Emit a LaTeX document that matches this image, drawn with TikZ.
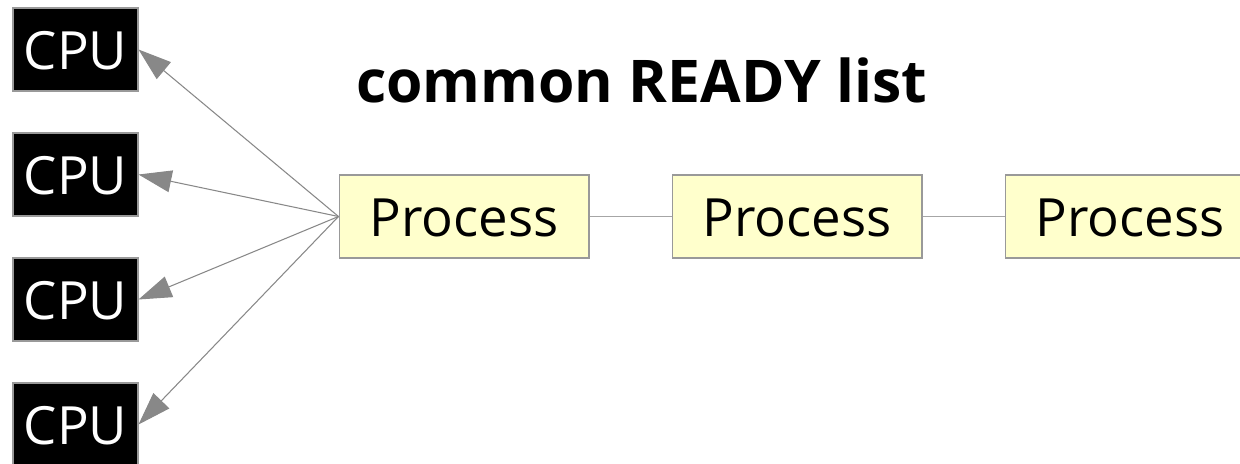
\documentclass[tikz,border=0pt]{standalone}
\usepackage{fontspec}
\setmainfont{Open Sans}
\usetikzlibrary{arrows.meta}
\definecolor{procfill}{HTML}{FFFFCC}
\definecolor{edgegray}{HTML}{888888}

\begin{document}
\begin{tikzpicture}[x=0.02cm,y=-0.02cm,
  cpubox/.style={draw=black!40,fill=black,text=white,line width=0.6pt,
    minimum width=2.5cm,minimum height=1.66cm,inner sep=0pt,
    text height=23.2pt,text depth=0pt,
    font=\fontsize{30}{36}\selectfont},
  procbox/.style={draw=black!40,fill=procfill,line width=0.6pt,
    minimum width=5cm,minimum height=1.66cm,inner sep=0pt,
    text height=23.2pt,text depth=0pt,
    font=\fontsize{30}{36}\selectfont},
  feed/.style={edgegray,line width=0.6pt,-{Triangle[length=0.66cm,width=0.44cm]}},
  link/.style={black!35,line width=0.6pt}]
\useasboundingbox (0,0) rectangle (1240,463);
\node[cpubox] (cpu1) at (75.5,49.5) {CPU};
\node[cpubox] (cpu2) at (75.5,174.5) {CPU};
\node[cpubox] (cpu3) at (75.5,299.5) {CPU};
\node[cpubox] (cpu4) at (75.5,424.5) {CPU};
\node[font=\fontsize{33.5}{40}\selectfont\bfseries,anchor=base] (title) at (641.5,102) {common READY list};
\node[procbox] (proc1) at (464,216.5) {Process};
\node[procbox] (proc2) at (797,216.5) {Process};
\node[procbox] (proc3) at (1130,216.5) {Process};
\draw[link] (proc1) -- (proc2);
\draw[link] (proc2) -- (proc3);
\foreach \i in {1,...,4}
  \draw[feed] (proc1.west) -- (cpu\i.east);
\end{tikzpicture}
\end{document}
